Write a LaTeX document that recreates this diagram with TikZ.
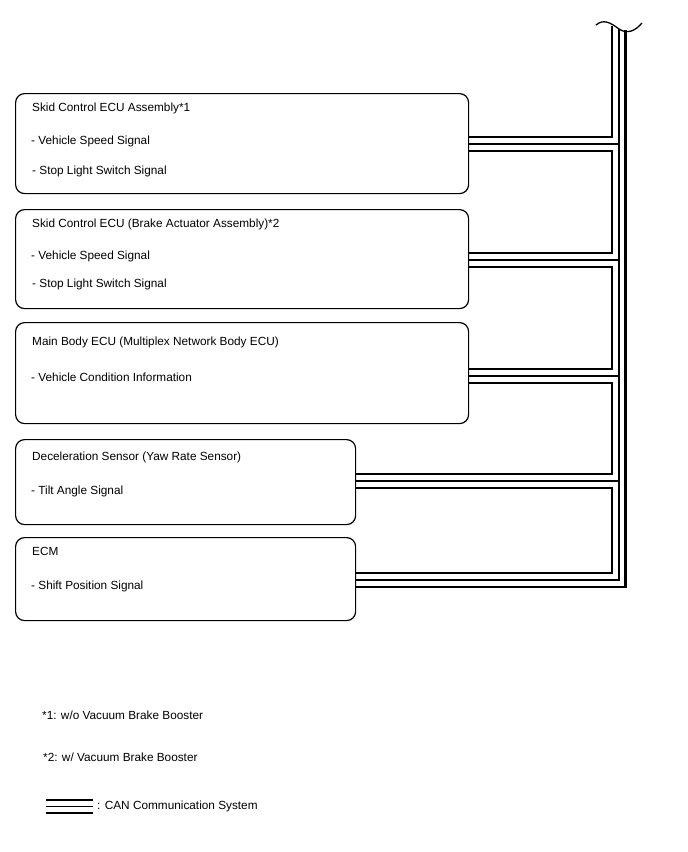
\documentclass[tikz,border=0pt]{standalone}
\usepackage{fontspec}
\setmainfont{Liberation Sans}
\begin{document}
\begin{tikzpicture}[x=1pt,y=-1pt,
  box/.style={draw, line width=1.2pt, rounded corners=9pt, anchor=north west, inner sep=0pt},
  lbl/.style={anchor=base west, inner sep=0pt, font=\fontsize{11.8}{14}\selectfont},
  thickbus/.style={line width=2.4pt, line join=miter, line cap=butt},
  thinbus/.style={line width=1.2pt, line join=miter, line cap=butt}]
\useasboundingbox (0,0) rectangle (688,852);

% boxes
\node[box, minimum width=453pt, minimum height=100pt] (b1) at (15,93) {};
\node[box, minimum width=453pt, minimum height=99pt] (b2) at (15,209) {};
\node[box, minimum width=453pt, minimum height=101pt] (b3) at (15,322) {};
\node[box, minimum width=340pt, minimum height=85pt] (b4) at (15,439) {};
\node[box, minimum width=340pt, minimum height=83pt] (b5) at (15,537) {};

% texts
\node[lbl] (t11) at (32,111) {Skid Control ECU Assembly*1};
\node[lbl] (t12) at (31,144) {- Vehicle Speed Signal};
\node[lbl] (t13) at (32,174) {- Stop Light Switch Signal};
\node[lbl] (t21) at (32,227) {Skid Control ECU (Brake Actuator Assembly)*2};
\node[lbl] (t22) at (31,259) {- Vehicle Speed Signal};
\node[lbl] (t23) at (32,287) {- Stop Light Switch Signal};
\node[lbl] (t31) at (32,345) {Main Body ECU (Multiplex Network Body ECU)};
\node[lbl] (t32) at (31,381) {- Vehicle Condition Information};
\node[lbl] (t41) at (32,460) {Deceleration Sensor (Yaw Rate Sensor)};
\node[lbl] (t42) at (31,494) {- Tilt Angle Signal};
\node[lbl] (t51) at (32,555) {ECM};
\node[lbl] (t52) at (31,589) {- Shift Position Signal};

% bus coordinates
\coordinate (tl) at (612,26);
\coordinate (tm) at (619,29);
\coordinate (tr) at (625.5,30);
\coordinate (j1) at (612,137);  \coordinate (k1) at (612,151);
\coordinate (j2) at (612,253);  \coordinate (k2) at (612,267);
\coordinate (j3) at (612,369);  \coordinate (k3) at (612,383);
\coordinate (j4) at (612,474);  \coordinate (k4) at (612,488);
\coordinate (j5) at (612,573);
\coordinate (m1) at (619,144);
\coordinate (m2) at (619,260);
\coordinate (m3) at (619,376);
\coordinate (m4) at (619,481);
\coordinate (m5) at (619,580);
\coordinate (r5) at (625.5,587);

% break symbol
\draw[line width=1.3pt] (596,25) .. controls (603,19) and (610,22) .. (619,29)
  .. controls (628,35) and (636,30) .. (642,23);

% left thick line segments
\draw[thickbus] (tl) -- (j1) -- (b1.east |- j1);
\draw[thickbus] (b1.east |- k1) -- (k1) -- (j2) -- (b2.east |- j2);
\draw[thickbus] (b2.east |- k2) -- (k2) -- (j3) -- (b3.east |- j3);
\draw[thickbus] (b3.east |- k3) -- (k3) -- (j4) -- (b4.east |- j4);
\draw[thickbus] (b4.east |- k4) -- (k4) -- (j5) -- (b5.east |- j5);
% middle thin line
\draw[thinbus] (tm) -- (m5) -- (b5.east |- m5);
\draw[thinbus] (b1.east |- m1) -- (m1);
\draw[thinbus] (b2.east |- m2) -- (m2);
\draw[thinbus] (b3.east |- m3) -- (m3);
\draw[thinbus] (b4.east |- m4) -- (m4);
% right thick line
\draw[thickbus] (tr) -- (r5) -- (b5.east |- r5);

% legend
\node[lbl] (n1) at (42,719) {*1: w/o Vacuum Brake Booster};
\node[lbl] (n2) at (43,761) {*2: w/ Vacuum Brake Booster};
\coordinate (la) at (46,800);   \coordinate (la2) at (93,800);
\coordinate (lm) at (46,806.5); \coordinate (lm2) at (93,806.5);
\coordinate (lb) at (46,813);   \coordinate (lb2) at (93,813);
\node[lbl] (n3) at (97,809.5) {: CAN Communication System};
\draw[thickbus] (la) -- (la2);
\draw[thinbus] (lm) -- (lm2);
\draw[thickbus] (lb) -- (lb2);
\end{tikzpicture}
\end{document}
